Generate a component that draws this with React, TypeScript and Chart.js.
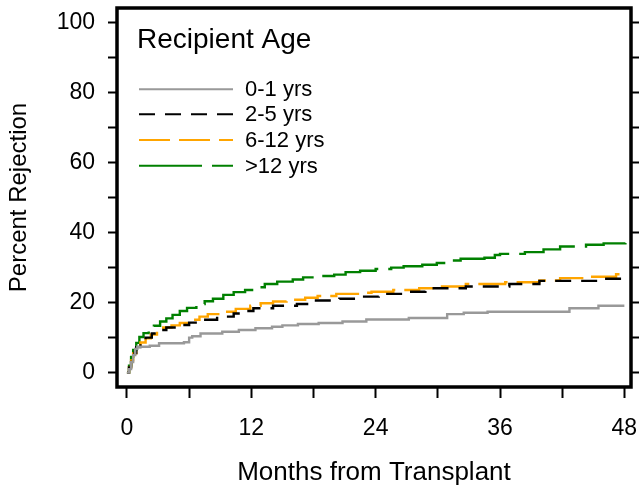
import React, { useEffect, useRef } from 'react';
import { Chart, registerables } from 'chart.js';

Chart.register(...registerables);

const FONT = '"Liberation Sans", Arial, Helvetica, sans-serif';

const legendTitle = 'Recipient Age';
const seriesLabels = ['0-1 yrs', '2-5 yrs', '6-12 yrs', '>12 yrs'];
const seriesColors = ['#999999', '#000000', '#FFA500', '#008000'];
const seriesDashes: number[][] = [[], [16, 10], [31, 9], [63, 10]];

const monthsAge0to1 = [0, 0.2, 0.4, 0.6, 0.8, 1.0, 2.2, 3.1, 5.5, 6.0, 6.3, 7.1, 9.2, 10.8, 12.4, 14.0, 15.0, 16.5, 18.5, 20.8, 23.1, 27.2, 30.9, 32.5, 34.8, 42.7, 45.5, 48.0];
const pctAge0to1 = [0, 1, 3, 5, 6.8, 7.4, 7.7, 8.4, 8.7, 10.0, 10.4, 11.2, 11.7, 12.2, 12.7, 13.1, 13.5, 13.9, 14.2, 14.6, 15.2, 15.6, 16.7, 17.1, 17.4, 18.4, 19.1, 19.1];

const monthsAge2to5 = [0, 0.2, 0.4, 0.6, 0.9, 1.3, 1.8, 2.4, 3.0, 3.8, 5.1, 6.0, 7.1, 8.7, 10.3, 11.2, 12.2, 14.1, 16.4, 17.8, 20.5, 22.2, 24.3, 27.3, 28.8, 32.7, 36.9, 39.8, 45.5, 48.0];
const pctAge2to5 = [0, 1.5, 3.8, 5.6, 7.3, 8.8, 10.0, 11.2, 12.2, 12.9, 13.6, 14.3, 15.1, 16.0, 16.9, 17.6, 18.4, 19.1, 19.6, 20.6, 21.1, 21.7, 22.5, 23.1, 24.1, 24.6, 25.3, 26.2, 26.8, 26.8];

const monthsAge6to12 = [0, 0.2, 0.4, 0.6, 0.9, 1.3, 1.8, 2.3, 2.9, 3.5, 4.3, 5.1, 6.1, 7.0, 7.8, 9.3, 10.5, 11.9, 12.9, 14.1, 15.4, 17.2, 18.4, 20.2, 22.6, 23.6, 25.7, 28.2, 30.1, 32.7, 36.5, 39.8, 41.8, 44.2, 47.2, 48.1];
const pctAge6to12 = [0, 1.5, 3.5, 5.5, 7.0, 8.6, 9.8, 10.9, 12.0, 12.9, 13.5, 14.2, 15.1, 16.0, 16.7, 17.4, 18.2, 19.1, 19.8, 20.3, 20.8, 21.4, 21.9, 22.5, 22.8, 23.1, 23.6, 24.1, 24.6, 25.3, 25.8, 26.3, 27.0, 27.4, 28.1, 28.1];

const monthsAgeOver12 = [0, 0.2, 0.4, 0.6, 0.9, 1.2, 1.6, 2.1, 2.6, 3.2, 3.8, 4.4, 5.1, 5.8, 6.7, 7.5, 8.3, 9.3, 10.3, 11.4, 12.3, 13.3, 14.5, 16.0, 17.0, 18.5, 20.0, 21.1, 22.5, 24.0, 25.5, 26.7, 28.5, 29.9, 31.2, 32.2, 34.5, 35.5, 36.0, 38.4, 40.2, 41.8, 44.3, 46.0, 48.1];
const pctAgeOver12 = [0, 2, 4.5, 6.5, 8.5, 10.2, 11.3, 12.3, 13.4, 14.6, 15.5, 16.5, 17.6, 18.5, 19.6, 20.4, 21.1, 22.2, 23.0, 23.6, 24.4, 25.3, 26.0, 26.6, 27.2, 27.6, 28.0, 28.7, 29.1, 29.6, 30.0, 30.4, 30.8, 31.3, 32.0, 32.5, 32.8, 33.6, 33.9, 34.4, 35.2, 36.0, 36.5, 36.9, 37.0];

const xTickValues = [0, 6, 12, 18, 24, 30, 36, 42, 48];
const xTickLabels = ['0', '', '12', '', '24', '', '36', '', '48'];
const yTickValues = [0, 10, 20, 30, 40, 50, 60, 70, 80, 90, 100];
const yTickLabels = ['0', '', '20', '', '40', '', '60', '', '80', '', '100'];

const xTitle = 'Months from Transplant';
const yTitle = 'Percent Rejection';

const seriesMonths = [monthsAge0to1, monthsAge2to5, monthsAge6to12, monthsAgeOver12];
const seriesPct = [pctAge0to1, pctAge2to5, pctAge6to12, pctAgeOver12];

const boxPlugin = {
  id: 'boxAndLegend',
  afterDraw(chart: any) {
    const { ctx, chartArea } = chart;
    ctx.save();
    ctx.strokeStyle = '#000';
    ctx.lineWidth = 3.5;
    ctx.setLineDash([]);
    ctx.strokeRect(chartArea.left, chartArea.top, chartArea.right - chartArea.left, chartArea.bottom - chartArea.top);

    // legend
    const lx = chartArea.left + 20;
    ctx.fillStyle = '#000';
    ctx.font = `28px ${FONT}`;
    ctx.textAlign = 'left';
    ctx.textBaseline = 'alphabetic';
    ctx.fillText(legendTitle, lx, 48);

    ctx.font = `22px ${FONT}`;
    ctx.textBaseline = 'middle';
    const rows = [89.3, 114.3, 140, 165.7];
    seriesLabels.forEach((lab, i) => {
      const y = rows[i];
      ctx.strokeStyle = seriesColors[i];
      ctx.lineWidth = 2;
      ctx.setLineDash(seriesDashes[i]);
      ctx.beginPath();
      ctx.moveTo(chartArea.left + 22, y);
      ctx.lineTo(chartArea.left + 116, y);
      ctx.stroke();
      ctx.setLineDash([]);
      ctx.fillStyle = '#000';
      ctx.fillText(lab, chartArea.left + 128, y + 1);
    });
    ctx.restore();
  },
};

export default function App() {
  const canvasRef = useRef<HTMLCanvasElement | null>(null);

  useEffect(() => {
    document.body.style.margin = '0';
    const canvas = canvasRef.current;
    if (!canvas) return;

    const datasets = seriesLabels.map((lab, i) => ({
      label: lab,
      data: seriesMonths[i].map((m, j) => ({ x: m, y: seriesPct[i][j] })),
      borderColor: seriesColors[i],
      backgroundColor: seriesColors[i],
      borderDash: seriesDashes[i],
      borderWidth: 2.4,
      stepped: true as const,
      pointRadius: 0,
      fill: false,
      yAxisID: 'y',
      xAxisID: 'x',
    }));

    const tickFont = { family: FONT, size: 23 };

    const chart = new Chart(canvas, {
      type: 'line',
      data: { datasets },
      plugins: [boxPlugin],
      options: {
        animation: false,
        responsive: false,
        maintainAspectRatio: false,
        devicePixelRatio: 1,
        layout: { padding: { top: 8, left: 0, right: 0, bottom: 0 } },
        plugins: { legend: { display: false }, tooltip: { enabled: false } },
        scales: {
          x: {
            type: 'linear',
            position: 'bottom',
            min: -0.96,
            max: 48.64,
            afterFit: (s: any) => { s.height = 110; s.paddingLeft = 0; s.paddingRight = 0; },
            afterBuildTicks: (s: any) => { s.ticks = xTickValues.map((v) => ({ value: v })); },
            border: { display: false },
            grid: { drawOnChartArea: false, drawTicks: true, tickLength: 11, tickWidth: 2, tickColor: '#000' },
            ticks: {
              padding: 17,
              color: '#000',
              font: tickFont,
              maxRotation: 0,
              autoSkip: false,
              callback: (_v: any, idx: number) => xTickLabels[idx],
            },
            title: { display: true, text: xTitle, color: '#000', font: { family: FONT, size: 26 }, padding: { top: 0, bottom: 9 } },
          },
          y: {
            type: 'linear',
            position: 'left',
            min: -4.09,
            max: 104.1,
            afterFit: (s: any) => { s.width = 117; s.paddingTop = 0; s.paddingBottom = 0; },
            afterBuildTicks: (s: any) => { s.ticks = yTickValues.map((v) => ({ value: v })); },
            border: { display: false },
            grid: { drawOnChartArea: false, drawTicks: true, tickLength: 9, tickWidth: 2, tickColor: '#000' },
            ticks: {
              padding: 13,
              color: '#000',
              font: tickFont,
              autoSkip: false,
              callback: (_v: any, idx: number) => yTickLabels[idx],
            },
            title: { display: true, text: yTitle, color: '#000', font: { family: FONT, size: 24 }, padding: { top: 5, bottom: 0 } },
          },
          yRight: {
            type: 'linear',
            position: 'right',
            min: -4.09,
            max: 104.1,
            afterFit: (s: any) => { s.width = 8; s.paddingTop = 0; s.paddingBottom = 0; },
            afterBuildTicks: (s: any) => { s.ticks = yTickValues.map((v) => ({ value: v })); },
            border: { display: false },
            grid: { drawOnChartArea: false, drawTicks: true, tickLength: 8, tickWidth: 2, tickColor: '#000' },
            ticks: { display: false },
          },
        },
      } as any,
    });

    return () => chart.destroy();
  }, []);

  return (
    <div style={{ width: 639, height: 497 }}>
      <canvas ref={canvasRef} width={639} height={497} style={{ display: 'block', width: 639, height: 497 }} />
    </div>
  );
}
